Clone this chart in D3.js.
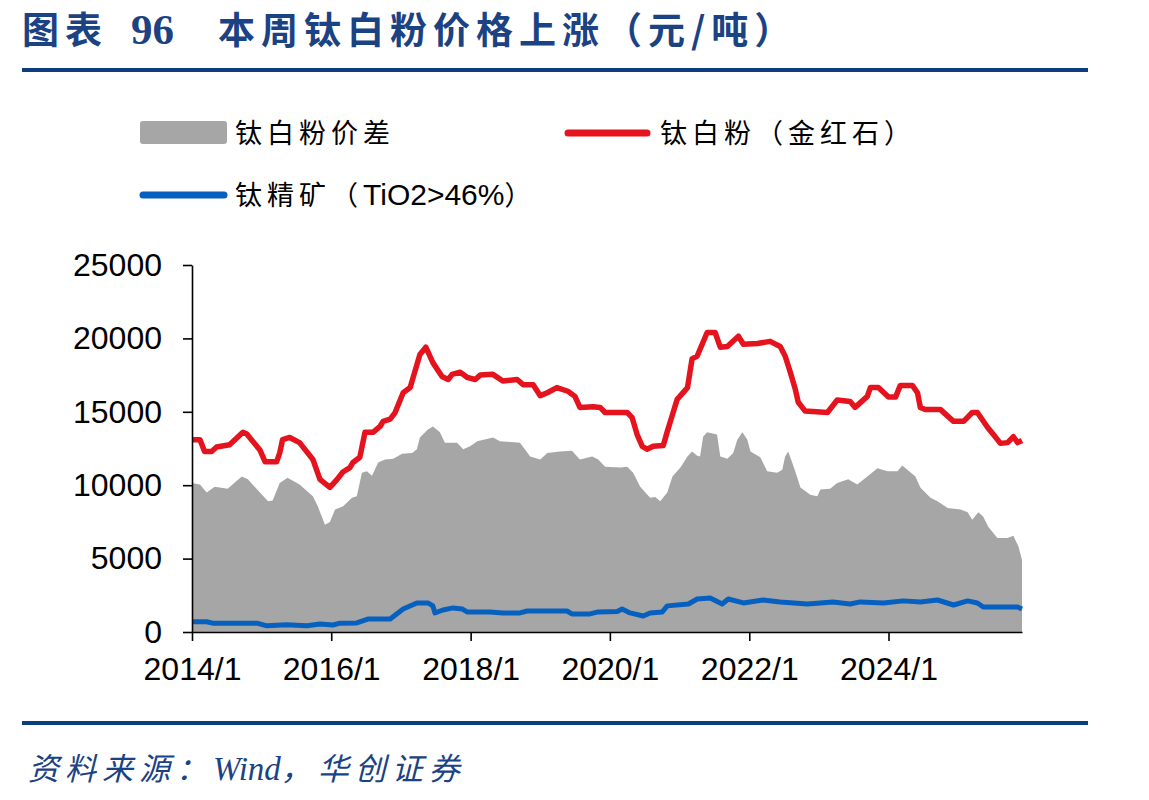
<html>
<head>
<meta charset="utf-8">
<script src="https://d3js.org/d3.v7.min.js"></script>
<style>
body { margin: 0; background: #fff; }
.tick text { font-family: "Liberation Sans", Arial, sans-serif; font-size: 32px; fill: #000; }
.cjk { font-family: "Noto Sans CJK SC", sans-serif; }
</style>
</head>
<body>
<div id="chart"></div>
<script>
// rutile TiO2 price (red line)
var redDates = [
  "2014-01-01","2014-02-12","2014-03-08","2014-04-14","2014-05-10","2014-07-17","2014-09-25","2014-10-14","2014-12-23","2015-01-19",
  "2015-03-21","2015-04-06","2015-04-21","2015-05-28","2015-07-19","2015-09-27","2015-11-03","2015-12-25","2016-02-01","2016-03-02",
  "2016-04-08","2016-04-24","2016-05-30","2016-06-26","2016-08-07","2016-09-13","2016-09-29","2016-11-05","2016-12-01","2017-01-12",
  "2017-02-18","2017-04-10","2017-05-11","2017-06-17","2017-08-04","2017-09-05","2017-09-26","2017-11-07","2017-12-13","2018-01-25",
  "2018-02-20","2018-04-28","2018-06-19","2018-09-02","2018-10-03","2018-11-25","2019-01-01","2019-02-07","2019-03-29","2019-05-26",
  "2019-07-02","2019-07-28","2019-10-05","2019-11-11","2019-12-07","2020-02-25","2020-04-01","2020-04-27","2020-05-23","2020-06-19",
  "2020-07-14","2020-08-15","2020-10-07","2020-10-28","2020-11-24","2020-12-19","2021-02-11","2021-03-07","2021-04-03","2021-05-25",
  "2021-07-06","2021-08-02","2021-09-08","2021-11-05","2021-12-01","2022-02-13","2022-04-20","2022-06-12","2022-07-08","2022-08-04",
  "2022-08-30","2022-09-15","2022-10-21","2023-02-15","2023-04-07","2023-06-14","2023-07-10","2023-09-12","2023-09-28","2023-11-09",
  "2024-01-01","2024-02-07","2024-03-03","2024-05-05","2024-06-01","2024-06-16","2024-07-12","2024-09-30","2024-12-07","2025-01-29",
  "2025-03-15","2025-04-11","2025-06-03","2025-07-04","2025-08-10","2025-09-16","2025-10-17","2025-11-08","2025-12-01"
];
var redValues = [
  13100,13100,12300,12300,12600,12750,13600,13500,12400,11600,
  11600,12200,13100,13250,12900,11750,10400,9850,10400,10900,
  11200,11550,11900,13600,13600,14000,14350,14500,14950,16300,
  16650,18900,19400,18350,17400,17200,17550,17700,17350,17200,
  17500,17550,17100,17200,16850,16850,16100,16300,16650,16400,
  16050,15300,15350,15300,14950,14950,14950,14600,13450,12650,
  12450,12650,12700,13650,14800,15850,16650,18600,18800,20400,
  20400,19400,19450,20150,19600,19650,19800,19450,18800,17700,
  16550,15650,15050,14950,15800,15700,15300,16050,16650,16650,
  16000,16000,16800,16800,16300,15300,15150,15150,14350,14350,
  14950,14950,13950,13450,12850,12900,13300,12900,13050
];

// price spread (grey area)
var grayDates = [
  "2014-01-01","2014-02-12","2014-03-19","2014-04-30","2014-07-07","2014-09-19","2014-10-21","2014-12-23","2015-02-04","2015-02-28",
  "2015-04-06","2015-05-17","2015-07-19","2015-09-27","2015-10-23","2015-11-29","2015-12-25","2016-01-21","2016-03-02","2016-04-19",
  "2016-05-14","2016-06-10","2016-07-06","2016-08-02","2016-09-03","2016-10-09","2016-11-21","2017-01-07","2017-02-28","2017-03-25",
  "2017-04-10","2017-05-22","2017-06-17","2017-07-24","2017-08-19","2017-10-22","2017-11-23","2017-12-29","2018-02-05","2018-04-28",
  "2018-06-04","2018-09-17","2018-11-09","2019-01-01","2019-02-07","2019-04-14","2019-06-16","2019-07-28","2019-09-30","2019-11-01",
  "2019-12-07","2020-02-25","2020-04-01","2020-05-02","2020-06-08","2020-07-30","2020-08-26","2020-09-21","2020-10-28","2020-11-24",
  "2021-01-05","2021-02-11","2021-03-07","2021-04-03","2021-04-18","2021-05-04","2021-05-25","2021-07-16","2021-08-02","2021-09-08",
  "2021-10-09","2021-10-30","2021-11-26","2021-12-22","2022-01-07","2022-02-28","2022-04-05","2022-05-27","2022-06-23","2022-07-08",
  "2022-07-24","2022-08-14","2022-09-10","2022-09-26","2022-11-17","2022-12-24","2023-01-09","2023-03-01","2023-04-07","2023-06-04",
  "2023-07-21","2023-09-12","2023-11-04","2023-12-26","2024-02-17","2024-03-13","2024-04-09","2024-05-21","2024-06-16","2024-08-08",
  "2024-09-14","2024-11-06","2025-01-13","2025-02-19","2025-03-15","2025-04-16","2025-05-12","2025-06-08","2025-07-25","2025-09-16",
  "2025-10-17","2025-11-13","2025-12-01"
];
var grayValues = [
  10150,10050,9500,9900,9750,10600,10400,9500,8900,8950,
  10150,10500,10050,9250,8550,7300,7500,8350,8550,9150,
  9250,10850,10950,10650,11550,11750,11800,12150,12200,12450,
  13250,13800,14000,13600,12900,12900,12450,12650,13000,13250,
  13000,12900,11950,11750,12200,12300,12350,11750,11950,11750,
  11250,11200,11250,10850,9900,9150,9200,8900,9500,10600,
  11200,11950,12300,12000,11950,13300,13600,13450,11950,11800,
  12200,13100,13600,13100,12300,11900,10950,10850,11050,11950,
  12300,11550,10500,9850,9350,9250,9700,9750,10150,10400,
  10050,10600,11150,10950,10950,11350,11050,10600,9850,9150,
  8900,8450,8350,8150,7650,8150,7850,7150,6400,6400,
  6550,5800,4900
];

// ilmenite concentrate TiO2>46% (blue line)
var blueDates = [
  "2014-01-01","2014-03-19","2014-04-19","2014-12-07","2015-01-29","2015-05-12","2015-08-26","2015-11-03","2016-01-10","2016-02-16",
  "2016-05-14","2016-07-11","2016-11-05","2017-01-12","2017-03-25","2017-05-22","2017-06-17","2017-06-28","2017-08-09","2017-10-01",
  "2017-11-17","2017-12-13","2018-04-12","2018-06-19","2018-09-17","2018-10-24","2019-05-21","2019-06-16","2019-09-19","2019-11-01",
  "2020-02-09","2020-03-05","2020-04-16","2020-06-24","2020-07-30","2020-10-02","2020-10-28","2021-02-16","2021-04-03","2021-06-10",
  "2021-08-12","2021-09-13","2021-12-01","2022-03-14","2022-06-12","2022-11-02","2023-03-16","2023-06-14","2023-08-06","2023-12-05",
  "2024-03-19","2024-06-16","2024-09-14","2024-12-07","2025-02-19","2025-04-11","2025-05-12","2025-08-10","2025-11-08","2025-12-01"
];
var blueValues = [
  700,700,600,600,420,500,420,550,480,600,
  620,880,880,1570,1980,1980,1780,1300,1500,1640,
  1570,1370,1370,1300,1300,1430,1430,1230,1230,1370,
  1400,1570,1300,1090,1300,1370,1780,1910,2250,2320,
  1910,2250,1980,2180,2050,1910,2050,1910,2050,1980,
  2120,2050,2180,1840,2120,1980,1700,1700,1700,1570
];

var yTicks = [0, 5000, 10000, 15000, 20000, 25000];
var seriesNames = ["钛白粉价差", "钛白粉（金红石）", "钛精矿（"];

var parseDate = d3.timeParse("%Y-%m-%d");
function zip(dates, values) {
  return dates.map(function(d, i) { return {date: parseDate(d), value: values[i]}; });
}
var red = zip(redDates, redValues),
    gray = zip(grayDates, grayValues),
    blue = zip(blueDates, blueValues);

var svg = d3.select("#chart")
  .append("svg")
    .attr("width", 1149)
    .attr("height", 800);

// header
var title = svg.append("text")
  .attr("y", 44)
  .attr("fill", "#1b4283")
  .style("font-weight", "bold");
title.append("tspan").attr("x", 22).attr("class", "cjk")
  .style("font-size", "37px").style("letter-spacing", "6px").text("图表");
title.append("tspan").attr("x", 131)
  .style("font-family", "'Liberation Serif', serif").style("font-size", "43px").text("96");
title.append("tspan").attr("x", 218).attr("class", "cjk")
  .style("font-size", "37px").style("letter-spacing", "6px").text("本周钛白粉价格上涨（元/吨）");

svg.append("line")
  .attr("x1", 22).attr("x2", 1088).attr("y1", 70).attr("y2", 70)
  .attr("stroke", "#0d3d7e").attr("stroke-width", 4);

// legend
var legend = svg.append("g");
legend.append("rect")
  .attr("x", 140).attr("y", 121).attr("width", 87).attr("height", 23).attr("rx", 3)
  .attr("fill", "#a6a6a6");
legend.append("line")
  .attr("x1", 568).attr("x2", 647).attr("y1", 133).attr("y2", 133)
  .attr("stroke", "#e5131d").attr("stroke-width", 7).attr("stroke-linecap", "round");
legend.append("line")
  .attr("x1", 143).attr("x2", 224).attr("y1", 195).attr("y2", 195)
  .attr("stroke", "#0660c0").attr("stroke-width", 7).attr("stroke-linecap", "round");

legend.selectAll("text.lg")
  .data([[235, 133, seriesNames[0]], [660, 133, seriesNames[1]]])
  .enter()
  .append("text")
    .attr("class", "lg cjk")
    .attr("x", d => d[0])
    .attr("y", d => d[1] + 10)
    .style("font-size", "27px")
    .style("letter-spacing", "5px")
    .text(d => d[2]);

var lg3 = legend.append("text")
  .attr("x", 235).attr("y", 205);
lg3.append("tspan").attr("class", "cjk")
  .style("font-size", "27px").style("letter-spacing", "5px").text(seriesNames[2]);
lg3.append("tspan")
  .style("font-family", "'Liberation Sans', Arial, sans-serif").style("font-size", "30px").text("TiO2>46%");
lg3.append("tspan").attr("class", "cjk")
  .style("font-size", "27px").text("）");

// plot area
var margin = {top: 265, left: 192},
    width = 830,
    height = 367;

var g = svg.append("g")
  .attr("transform", "translate(" + margin.left + "," + margin.top + ")");

var x = d3.scaleTime()
  .domain([new Date(2014, 0, 1), new Date(2025, 11, 1)])
  .range([0, width]);

var y = d3.scaleLinear()
  .domain([0, 25000])
  .range([height, 0]);

g.append("path")
  .datum(gray)
  .attr("fill", "#a6a6a6")
  .attr("d", d3.area()
    .x(d => x(d.date))
    .y0(y(0))
    .y1(d => y(d.value)));

var line = d3.line()
  .x(d => x(d.date))
  .y(d => y(d.value));

g.append("path")
  .datum(blue)
  .attr("fill", "none")
  .attr("stroke", "#0660c0")
  .attr("stroke-width", 5)
  .attr("stroke-linejoin", "round")
  .attr("d", line);

g.append("path")
  .datum(red)
  .attr("fill", "none")
  .attr("stroke", "#e5131d")
  .attr("stroke-width", 5.5)
  .attr("stroke-linejoin", "round")
  .attr("d", line);

// axes
var xAxis = g.append("g")
  .attr("transform", "translate(0," + height + ")")
  .call(d3.axisBottom(x)
    .ticks(d3.timeYear.every(2))
    .tickFormat(d3.timeFormat("%Y/%-m"))
    .tickSize(9)
    .tickSizeOuter(0)
    .tickPadding(16));

var yAxis = g.append("g")
  .call(d3.axisLeft(y)
    .tickValues(yTicks)
    .tickFormat(d3.format("d"))
    .tickSize(9)
    .tickSizeOuter(0)
    .tickPadding(21));

g.selectAll(".domain, .tick line")
  .attr("stroke", "#000")
  .attr("stroke-width", 1.6);

// footer
svg.append("line")
  .attr("x1", 22).attr("x2", 1088).attr("y1", 723).attr("y2", 723)
  .attr("stroke", "#0d3d7e").attr("stroke-width", 4);

var source = svg.append("text")
  .attr("x", 28).attr("y", 780)
  .attr("fill", "#1b4283")
  .style("font-family", "'Liberation Serif', 'Noto Sans CJK SC', serif")
  .style("font-style", "italic")
  .style("font-size", "31px");
source.append("tspan").style("letter-spacing", "6px").text("资料来源：");
source.append("tspan").style("font-size", "33px").text("Wind");
source.append("tspan").style("letter-spacing", "6px").text("，华创证券");
</script>
</body>
</html>
